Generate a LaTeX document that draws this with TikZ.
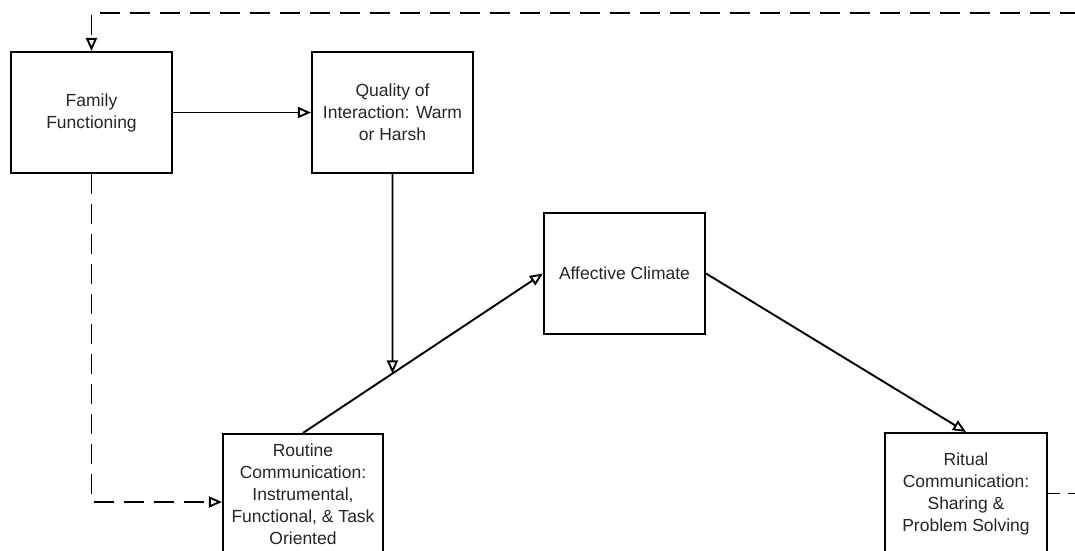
\documentclass[tikz,border=0pt]{standalone}
\usepackage{fontspec}
\setmainfont{Liberation Sans}
\usetikzlibrary{arrows.meta,calc,intersections}
\tikzset{
  box/.style={draw=black, line width=2.1pt, minimum width=161pt, minimum height=121pt,
    inner sep=0pt, align=center, font=\fontsize{17.5}{22}\selectfont, text=black!85},
  link/.style={line width=1.9pt, -{Triangle[open,length=13pt,width=11pt,line width=1.9pt]}},
  feedback/.style={link, dash pattern=on 20pt off 10pt},
}
\begin{document}
\begin{tikzpicture}[x=1pt,y=-1pt]
\clip (0,0) rectangle (1075,550);
\fill[white] (0,0) rectangle (1075,550);

% boxes
\node[box] (fam)  at (91.5,112.5)  {Family\\Functioning};
\node[box] (qual) at (392.5,112.5) {Quality of\\Interaction: Warm\\or Harsh};
\node[box] (aff)  at (624.5,273.5) {Affective Climate};
\node[box, minimum width=160pt] (rout) at (303,494.5)
  {Routine\\Communication:\\Instrumental,\\Functional, \& Task\\Oriented};
\node[box, minimum width=162pt] (rit)  at (966,493.5)
  {Ritual\\Communication:\\Sharing \&\\Problem Solving};

% free ends running off the right edge
\coordinate (topright) at (1080,13);
\coordinate (ritright) at (1080,0 |- rit.east);

% solid paths
\draw[link] (fam.east) -- (qual.west);
\draw[link] (rout.north) -- (aff.west);
\draw[link] (aff.east) -- (rit.north);

% quality of interaction moderates the routine -> climate path
\path[name path=diag] (rout.north) -- (aff.west);
\path[name path=vert] (qual.south) -- ++(0,300);
\path[name intersections={of=diag and vert, by=hit}];
\draw[link] (qual.south) -- (hit);

% dashed feedback paths
\coordinate (routin) at ($(rout.west)+(0,7.5)$);
\draw[feedback] (fam.south) |- (routin);
\draw[feedback] (topright) -| (fam.north);
\draw[line width=1.9pt, dash pattern=on 12pt off 8pt] (rit.east) -- (ritright);
\end{tikzpicture}
\end{document}
